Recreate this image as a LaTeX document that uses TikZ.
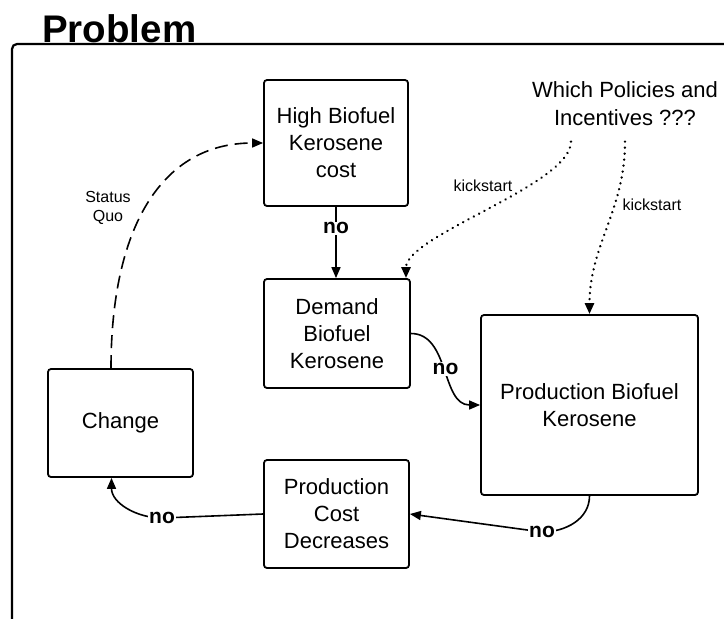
\documentclass[tikz,border=0pt]{standalone}
\usepackage{fontspec}
\setmainfont{Liberation Sans}
\usetikzlibrary{arrows.meta}
\begin{document}
\begin{tikzpicture}[x=1pt,y=-1pt,
  stepbox/.style={draw, line width=1.8pt, rounded corners=3pt, align=center,
    font=\fontsize{22}{27}\selectfont, inner sep=0pt},
  flow/.style={line width=1.6pt, -{Triangle[length=11pt,width=9pt]}},
  statusquo/.style={flow, dash pattern=on 13pt off 7pt},
  kick/.style={flow, line width=2.6pt, line cap=round, dash pattern=on 0.01pt off 6pt},
  nolabel/.style={fill=white, font=\bfseries\fontsize{21}{25}\selectfont, inner sep=1pt},
  smalllabel/.style={align=center, font=\fontsize{16}{19}\selectfont, inner sep=1pt},
]
\useasboundingbox (0,0) rectangle (724,619);

% frame and heading
\draw[line width=2.2pt, rounded corners=5pt] (12,625) -- (12,44) -- (730,44);
\node[anchor=base west, font=\bfseries\fontsize{38.5}{40}\selectfont, inner sep=0pt]
  (title) at (42,42) {Problem};

% boxes
\node[stepbox, minimum width=144pt, minimum height=126pt] (high) at (336,143)
  {High Biofuel\\Kerosene\\cost};
\node[stepbox, minimum width=146pt, minimum height=109pt] (demand) at (337,333.5)
  {Demand\\Biofuel\\Kerosene};
\node[stepbox, minimum width=217pt, minimum height=180pt] (prodbio) at (589.5,405)
  {Production Biofuel\\Kerosene};
\node[stepbox, minimum width=145pt, minimum height=108pt] (change) at (120.5,423)
  {Change};
\node[stepbox, minimum width=145pt, minimum height=108pt] (prodcost) at (336.5,514)
  {Production\\Cost\\Decreases};

% open question
\node[align=center, font=\fontsize{22}{28}\selectfont] (policy) at (625,104)
  {Which Policies and\\Incentives ???};

% status quo loop
\draw[statusquo] ([xshift=-9.5pt]change.north) .. controls (111,230) and (160,143) .. (high.west);
\node[smalllabel] (sq) at (108,208) {Status\\Quo};

% main cycle
\draw[flow] (high.south) -- node[nolabel, pos=0.3] (no1) {no} (high.south |- demand.north);
\draw[flow] (demand.east) to[out=0,in=180] node[nolabel] (no2) {no} (prodbio.west);

\coordinate (k4) at (542,532);
\draw[flow] (prodbio.south) to[out=-90,in=0] (k4) -- (prodcost.east);
\node[nolabel] (no3) at (k4) {no};

\coordinate (k5) at (162,518);
\draw[flow] (prodcost.west) -- (k5) to[out=180,in=-90] ([xshift=-9pt]change.south);
\node[nolabel] (no4) at (k5) {no};

% kickstart links
\draw[kick] ([shift={(-54,12)}]policy.south) .. controls (571,185) and (406,235) .. ([xshift=69pt]demand.north);
\node[smalllabel] (ks1) at (483,186) {kickstart};
\draw[kick] ([shift={(0,12)}]policy.south) to[out=-90,in=90] (prodbio.north);
\node[smalllabel, fill=white] (ks2) at (652,205) {kickstart};
\end{tikzpicture}
\end{document}
